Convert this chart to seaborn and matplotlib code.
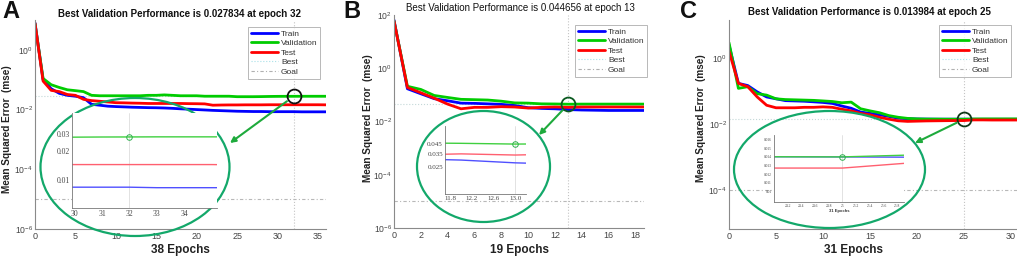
import numpy as np
import pandas as pd
import seaborn as sns
import matplotlib.pyplot as plt
import matplotlib.ticker as mtick
from matplotlib.patches import Ellipse
from matplotlib.lines import Line2D

# DADOS
a_train = [8.0, 0.10, 0.05, 0.035, 0.030, 0.028, 0.025, 0.015, 0.014, 0.013,
           0.0126, 0.0123, 0.0120, 0.0118, 0.0116, 0.0115, 0.0113, 0.0110, 0.0106, 0.0103,
           0.0100, 0.0097, 0.0094, 0.0092, 0.0090, 0.0088, 0.0087, 0.0086, 0.0086, 0.0085,
           0.0085, 0.0085, 0.0085, 0.0084, 0.0084, 0.0084, 0.0084, 0.0084, 0.0084]
a_val = [7.5, 0.11, 0.068, 0.055, 0.046, 0.043, 0.040, 0.030, 0.029, 0.029,
         0.029, 0.029, 0.029, 0.029, 0.030, 0.030, 0.031, 0.030, 0.029, 0.029,
         0.029, 0.028, 0.028, 0.028, 0.028, 0.027, 0.027, 0.027, 0.0272, 0.0275,
         0.0277, 0.0278, 0.027834, 0.0279, 0.0279, 0.0279, 0.0279, 0.028, 0.028]
a_test = [7.8, 0.09, 0.044, 0.040, 0.032, 0.030, 0.022, 0.020, 0.019, 0.018,
          0.017, 0.0168, 0.0165, 0.0163, 0.016, 0.016, 0.016, 0.016, 0.016, 0.0158,
          0.0157, 0.0155, 0.0140, 0.0142, 0.0143, 0.0143, 0.0144, 0.0144, 0.0144, 0.0145,
          0.0145, 0.0145, 0.0145, 0.0145, 0.0145, 0.0145, 0.0144, 0.0144, 0.0144]

b_train = [65, 0.17, 0.11, 0.072, 0.060, 0.049, 0.048, 0.046, 0.044, 0.040,
           0.033, 0.031, 0.030, 0.028, 0.027, 0.0265, 0.026, 0.026, 0.026, 0.026]
b_val = [60, 0.21, 0.16, 0.095, 0.080, 0.068, 0.066, 0.064, 0.058, 0.050,
         0.049, 0.046, 0.0455, 0.044656, 0.045, 0.045, 0.045, 0.045, 0.045, 0.045]
b_test = [60, 0.19, 0.12, 0.075, 0.045, 0.030, 0.034, 0.034, 0.036, 0.035,
          0.032, 0.034, 0.035, 0.034, 0.035, 0.035, 0.035, 0.035, 0.035, 0.035]

c_train = [2.5, 0.17, 0.146, 0.094, 0.066, 0.058, 0.051, 0.050, 0.049, 0.047,
           0.045, 0.042, 0.035, 0.030, 0.023, 0.021, 0.019, 0.017, 0.015, 0.0145,
           0.0142, 0.0141, 0.0140, 0.0140, 0.0140, 0.01398, 0.01395, 0.0139, 0.0139, 0.0139,
           0.0139, 0.0139]
c_val = [2.9, 0.12, 0.135, 0.083, 0.075, 0.058, 0.055, 0.054, 0.053, 0.052,
         0.050, 0.048, 0.044, 0.046, 0.029, 0.025, 0.022, 0.018, 0.016, 0.0148,
         0.0143, 0.0141, 0.0141, 0.0140, 0.0140, 0.013984, 0.0142, 0.0143, 0.0143, 0.0143,
         0.0143, 0.0143]
c_test = [1.6, 0.17, 0.135, 0.066, 0.037, 0.031, 0.031, 0.031, 0.032, 0.032,
          0.033, 0.032, 0.028, 0.025, 0.021, 0.019, 0.016, 0.014, 0.0125, 0.0120,
          0.0122, 0.0124, 0.0125, 0.0126, 0.0127, 0.0127, 0.0133, 0.0133, 0.0132, 0.0132,
          0.0132, 0.0132]

letras = ['A', 'B', 'C']
n_epochs = [38, 19, 31]
best_epoch = [32, 13, 25]
best_perf = [0.027834, 0.044656, 0.013984]
goal = [1e-5, 1e-5, 1e-4]

# LAYOUT (pixels)
W, H = 1017, 259
CORES = {'Train': '#0000ff', 'Validation': '#00cc00', 'Test': '#ff0000'}
CORES_INSET = {'Train': '#5050ff', 'Validation': '#40d040', 'Test': '#ff6070'}
VERDE = '#13a86a'


def caixa(l, t, r, b):
    return [l / W, 1 - b / H, (r - l) / W, (b - t) / H]


def df_longo(train, val, test):
    partes = []
    for nome, vals in [('Train', train), ('Validation', val), ('Test', test)]:
        partes.append(pd.DataFrame({'epoch': np.arange(len(vals)), 'mse': vals, 'set': nome}))
    return pd.concat(partes, ignore_index=True)


paineis = [
    dict(dados=(a_train, a_val, a_test), ax=(35, 20, 326, 229), xlim=(0, 36), ylim=(1e-6, 10),
         xticks=range(0, 36, 5), yticks=[1e-6, 1e-4, 1e-2, 1e0],
         leg=(248, 27), titulo=(180, 14, 'bold'), xl=(180, 250), yl=(7, 129), letra=(2, 11),
         elipse=(135, 167, 189, 138), seta=(230, 143),
         inset=(72, 113, 217, 208), ixlim=(29.9, 35.2), iylim=(0.0052, 0.049), ilog=True,
         ixt=[30, 31, 32, 33, 34], iyt=[0.01, 0.02, 0.03], ifs=5.5, circ='#101010'),
    dict(dados=(b_train, b_val, b_test), ax=(394, 15, 644, 228), xlim=(0, 18.65), ylim=(1e-6, 1e2),
         xticks=range(0, 19, 2), yticks=[1e-6, 1e-4, 1e-2, 1e0, 1e2],
         leg=(575, 25), titulo=(520, 8, 'normal'), xl=(520, 250), yl=(368, 118), letra=(343, 11),
         elipse=(483.5, 166.5, 133, 111), seta=(539, 135),
         inset=(445, 126, 526, 194), ixlim=(11.7, 13.2), iylim=(0.0129, 0.070), ilog=True,
         ixt=[11.8, 12.2, 12.6, 13.0], iyt=[0.025, 0.035, 0.045], ifs=5, circ='#0a5a20'),
    dict(dados=(c_train, c_val, c_test), ax=(729, 20, 1017, 229), xlim=(0, 30.64),
         ylim=(10 ** -5.18, 10 ** 1.15),
         xticks=range(0, 31, 5), yticks=[1e-4, 1e-2, 1e0],
         leg=(939, 25), titulo=(869, 12, 'bold'), xl=(853, 250), yl=(701, 118), letra=(680, 11),
         elipse=(829.5, 169.5, 191, 117), seta=(915, 143),
         inset=(774, 135, 904, 202), ixlim=(24.0, 25.9), iylim=(0.0088, 0.0165), ilog=False,
         ixt=[24.2, 24.4, 24.6, 24.8, 25.0, 25.2, 25.4, 25.6, 25.8],
         iyt=[0.010, 0.011, 0.012, 0.013, 0.014, 0.015, 0.016], ifs=2.6, circ='#103818'),
]

sns.set_style('white')
plt.rcParams['font.family'] = ['Liberation Sans', 'DejaVu Sans']
plt.rcParams['mathtext.default'] = 'regular'

fig = plt.figure(figsize=(W / 100, H / 100), dpi=100)

# camada transparente para elipses
ov = fig.add_axes([0, 0, 1, 1], zorder=2)
ov.set_xlim(0, W)
ov.set_ylim(H, 0)
ov.axis('off')
ov.patch.set_alpha(0)

for i, p in enumerate(paineis):
    df = df_longo(*p['dados'])
    ax = fig.add_axes(caixa(*p['ax']), zorder=1)
    ax.set_yscale('log')
    sns.lineplot(data=df, x='epoch', y='mse', hue='set', hue_order=['Train', 'Validation', 'Test'],
                 palette=CORES, linewidth=2, legend=False, ax=ax)
    ax.axvline(best_epoch[i], color='#c4c4c4', ls=':', lw=0.8, zorder=0)
    ax.axhline(best_perf[i], color='#c4d8d8', ls=':', lw=0.8, zorder=0)
    ax.axhline(goal[i], color='#b8b8b8', ls=(0, (3, 2, 1, 2)), lw=0.8, zorder=0)
    ax.plot([best_epoch[i]], [best_perf[i]], 'o', ms=10, mfc='none', mec=p['circ'], mew=1.3)

    ax.set_xlim(*p['xlim'])
    ax.set_ylim(*p['ylim'])
    ax.set_xticks(list(p['xticks']))
    ax.set_yticks(p['yticks'])
    ax.yaxis.set_major_formatter(mtick.LogFormatterMathtext())
    ax.yaxis.set_minor_locator(mtick.LogLocator(base=10, subs=np.arange(1, 10), numticks=40))
    ax.yaxis.set_minor_formatter(mtick.NullFormatter())
    ax.tick_params(axis='both', which='major', direction='in', length=3, width=0.6,
                   labelsize=6.5, labelcolor='#444444', color='#888888', pad=2)
    ax.tick_params(axis='y', which='major', labelsize=6.2, pad=1.5)
    ax.tick_params(axis='y', which='minor', direction='in', length=1.5, width=0.4, color='#aaaaaa')
    ax.set_xlabel('')
    ax.set_ylabel('')
    for lado in ['top', 'right']:
        ax.spines[lado].set_visible(False)
    for lado in ['left', 'bottom']:
        ax.spines[lado].set_color('#8a8a8a')
        ax.spines[lado].set_linewidth(0.8)

    handles = [Line2D([], [], color=CORES['Train'], lw=2),
               Line2D([], [], color=CORES['Validation'], lw=2),
               Line2D([], [], color=CORES['Test'], lw=2),
               Line2D([], [], color='#a8e0e8', lw=0.8, ls=':'),
               Line2D([], [], color='#b0b0b0', lw=0.8, ls=(0, (3, 2, 1, 2)))]
    lx, ly = p['leg']
    leg = ax.legend(handles, ['Train', 'Validation', 'Test', 'Best', 'Goal'], loc='upper left',
                    bbox_to_anchor=(lx / W, 1 - ly / H), bbox_transform=fig.transFigure,
                    fontsize=6, frameon=True, fancybox=False, handlelength=3.2,
                    borderpad=0.35, labelspacing=0.2, handletextpad=0.4, borderaxespad=0)
    leg.get_frame().set_edgecolor('#999999')
    leg.get_frame().set_linewidth(0.6)
    for t in leg.get_texts():
        t.set_color('#333333')

    # textos
    tx, ty, tw = p['titulo']
    fig.text(tx / W, 1 - ty / H,
             f'Best Validation Performance is {best_perf[i]:.6f} at epoch {best_epoch[i]}',
             ha='center', va='center', fontsize=7, fontweight=tw, color='#111111')
    xx, xy = p['xl']
    fig.text(xx / W, 1 - xy / H, f'{n_epochs[i]} Epochs', ha='center', va='center',
             fontsize=8.5, fontweight='bold', color='#222222')
    yx, yy = p['yl']
    fig.text(yx / W, 1 - yy / H, 'Mean Squared Error  (mse)', ha='center', va='center',
             rotation=90, fontsize=7.2, fontweight='bold', color='#222222')
    lx2, ly2 = p['letra']
    fig.text(lx2 / W, 1 - ly2 / H, letras[i], ha='left', va='center', fontsize=17,
             fontweight='bold', color='#111111')

    # elipse e seta
    ex, ey, ew, eh = p['elipse']
    ov.add_patch(Ellipse((ex, ey), ew, eh, fill=False, edgecolor=VERDE, lw=1.6))
    ov.annotate('', xy=p['seta'], xytext=(best_epoch[i], best_perf[i]), textcoords=ax.transData,
                arrowprops=dict(arrowstyle='-|>', color='#1eaa3c', lw=1.5, mutation_scale=8,
                                shrinkA=6, shrinkB=0))

    # inset ampliado
    ia = fig.add_axes(caixa(*p['inset']), zorder=3)
    ia.set_facecolor('white')
    if p['ilog']:
        ia.set_yscale('log')
    sns.lineplot(data=df, x='epoch', y='mse', hue='set', hue_order=['Train', 'Validation', 'Test'],
                 palette=CORES_INSET, linewidth=1, legend=False, ax=ia)
    ia.axvline(best_epoch[i], color='#dddddd', lw=0.6, zorder=0)
    ia.plot([best_epoch[i]], [best_perf[i]], 'o', ms=4, mfc='none', mec='#30b050', mew=0.7)
    ia.set_xlim(*p['ixlim'])
    ia.set_ylim(*p['iylim'])
    ia.set_xticks(p['ixt'])
    ia.set_xticklabels([f'{v:g}' if i != 1 else f'{v:.1f}' for v in p['ixt']])
    ia.set_yticks(p['iyt'])
    ia.set_yticklabels([f'{v:g}' for v in p['iyt']])
    ia.yaxis.set_minor_locator(mtick.NullLocator())
    ia.tick_params(axis='both', which='major', direction='in', length=2, width=0.4,
                   labelsize=p['ifs'], labelcolor='#444444', color='#888888', pad=1.5)
    for t in ia.get_xticklabels() + ia.get_yticklabels():
        t.set_fontfamily(['Liberation Serif', 'DejaVu Serif'])
    ia.set_xlabel('')
    ia.set_ylabel('')
    for lado in ['top', 'right']:
        ia.spines[lado].set_visible(False)
    for lado in ['left', 'bottom']:
        ia.spines[lado].set_color('#777777')
        ia.spines[lado].set_linewidth(0.6)
    if i == 2:
        ia.set_xlabel('31 Epochs', fontsize=3, fontweight='bold', labelpad=1, color='#333333')

fig.savefig('out.png', dpi=100)
